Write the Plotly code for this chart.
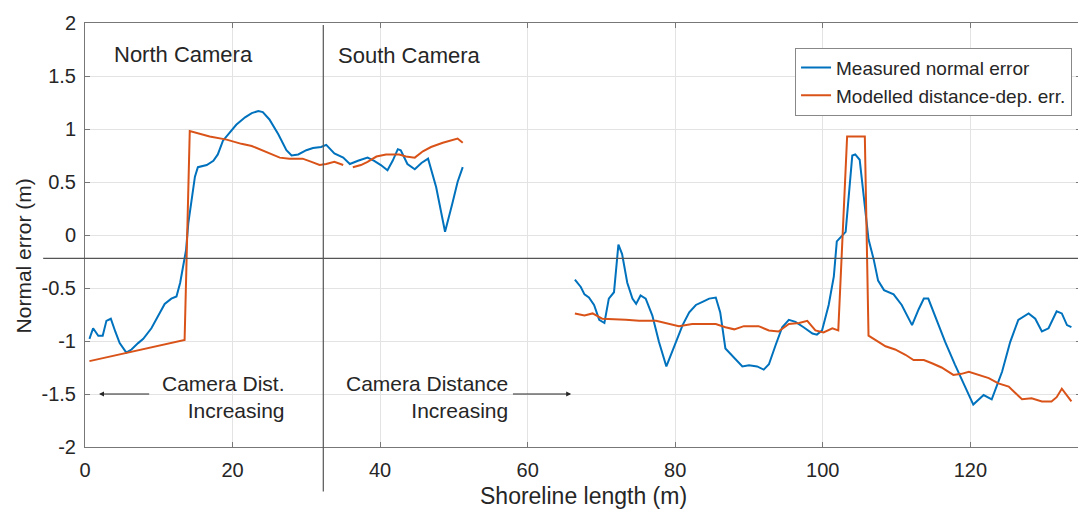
import plotly.graph_objects as go

# ---- data ----
meas_x1 = [0.6, 1.1, 1.8, 2.4, 2.9, 3.5, 4.1, 4.7, 5.6, 6.3, 7.2, 7.9, 9.0, 9.9, 10.8, 11.7, 12.4, 12.9,
           13.3, 13.7, 14.0, 14.4, 14.9, 15.3, 16.5, 17.4, 18.0, 18.7, 19.6, 20.5, 21.7, 22.6, 23.5, 24.1,
           25.0, 26.2, 27.3, 28.0, 28.9, 30.0, 30.9, 32.0, 32.7, 33.8, 35.0, 35.9, 37.0, 38.3, 39.2, 40.1,
           41.0, 41.7, 42.4, 42.8, 43.7, 44.7, 45.6, 46.5, 47.6, 48.8, 49.8, 50.5, 51.2]
meas_y1 = [-0.98, -0.88, -0.95, -0.95, -0.81, -0.79, -0.91, -1.02, -1.11, -1.08, -1.02, -0.98, -0.88, -0.77,
           -0.65, -0.60, -0.58, -0.45, -0.29, -0.14, 0.11, 0.30, 0.55, 0.64, 0.66, 0.70, 0.76, 0.89, 0.97,
           1.04, 1.11, 1.15, 1.17, 1.16, 1.09, 0.95, 0.80, 0.75, 0.76, 0.80, 0.82, 0.83, 0.85, 0.77, 0.73,
           0.67, 0.70, 0.73, 0.70, 0.66, 0.61, 0.70, 0.81, 0.80, 0.67, 0.62, 0.68, 0.72, 0.45, 0.03, 0.30,
           0.50, 0.64]

meas_x2 = [66.4, 67.2, 67.7, 68.3, 69.0, 69.7, 70.4, 71.0, 71.7, 72.3, 72.8, 73.5, 74.2, 74.7, 75.3, 76.0,
           76.9, 77.8, 78.8, 79.8, 81.0, 81.9, 82.8, 83.7, 84.6, 85.5, 86.1, 86.8, 88.0, 89.1, 90.0, 91.1,
           92.0, 92.7, 93.6, 94.5, 95.4, 96.3, 97.4, 98.6, 99.2, 99.9, 100.8, 101.5, 101.9, 103.1, 104.0,
           104.4, 105.0, 105.5, 106.2, 106.9, 107.5, 108.3, 109.6, 110.7, 112.1, 113.0, 113.7, 114.3, 115.2,
           116.6, 117.9, 119.3, 120.4, 121.8, 122.9, 124.3, 125.4, 126.5, 127.9, 128.8, 129.7, 130.6, 131.7,
           132.4, 133.1, 133.7]
meas_y2 = [-0.42, -0.49, -0.56, -0.59, -0.66, -0.80, -0.83, -0.60, -0.54, -0.09, -0.18, -0.45, -0.60, -0.65,
           -0.57, -0.60, -0.76, -1.01, -1.24, -1.07, -0.85, -0.73, -0.66, -0.63, -0.60, -0.59, -0.73, -1.07,
           -1.16, -1.24, -1.23, -1.24, -1.27, -1.22, -1.04, -0.87, -0.80, -0.82, -0.87, -0.93, -0.94, -0.90,
           -0.66, -0.39, -0.06, 0.03, 0.75, 0.76, 0.71, 0.42, -0.04, -0.23, -0.43, -0.52, -0.56, -0.66, -0.85,
           -0.70, -0.60, -0.60, -0.76, -1.01, -1.22, -1.44, -1.60, -1.51, -1.55, -1.29, -1.01, -0.80, -0.74,
           -0.79, -0.91, -0.88, -0.72, -0.74, -0.85, -0.87]

model_x1 = [0.6, 13.5, 14.2, 16.9, 19.2, 21.2, 22.6, 24.6, 26.4, 27.7, 29.5, 30.7, 31.8, 32.7, 33.8, 35.0]
model_y1 = [-1.19, -0.99, 0.98, 0.93, 0.90, 0.86, 0.84, 0.78, 0.73, 0.72, 0.72, 0.69, 0.66, 0.67, 0.69, 0.66]

model_x1b = [36.3, 37.4, 38.3, 39.5, 40.8, 42.6, 43.5, 44.7, 45.8, 46.9, 48.5, 49.6, 50.5, 51.2]
model_y1b = [0.64, 0.66, 0.69, 0.74, 0.76, 0.76, 0.74, 0.73, 0.79, 0.83, 0.87, 0.89, 0.91, 0.87]

model_x2 = [66.4, 67.7, 68.8, 70.1, 73.3, 75.1, 77.4, 79.2, 80.5, 82.3, 85.5, 86.8, 88.0, 89.3, 91.3, 92.7,
            94.0, 95.4, 96.8, 97.9, 99.0, 100.1, 101.3, 102.1, 103.3, 105.7, 106.2, 107.6, 108.5, 109.8,
            111.2, 112.3, 113.7, 114.8, 116.1, 117.7, 118.8, 119.8, 121.1, 122.5, 123.8, 125.2, 126.1,
            127.0, 128.3, 129.7, 131.0, 131.7, 132.4, 133.1, 133.7]
model_y2 = [-0.74, -0.76, -0.74, -0.79, -0.80, -0.81, -0.81, -0.84, -0.86, -0.84, -0.84, -0.87, -0.89, -0.86,
            -0.86, -0.90, -0.91, -0.84, -0.83, -0.81, -0.90, -0.92, -0.88, -0.90, 0.93, 0.93, -0.95, -1.01,
            -1.05, -1.08, -1.13, -1.18, -1.18, -1.21, -1.25, -1.32, -1.31, -1.29, -1.32, -1.35, -1.40, -1.43,
            -1.49, -1.55, -1.54, -1.57, -1.57, -1.53, -1.45, -1.52, -1.57]

x_range = [0, 135]
y_range = [-2, 2]
x_ticks = [0, 20, 40, 60, 80, 100, 120]
y_ticks = [2, 1.5, 1, 0.5, 0, -0.5, -1, -1.5, -2]
y_tick_text = ["2", "1.5", "1", "0.5", "0", "-0.5", "-1", "-1.5", "-2"]
camera_split_x = 32.3
ref_line_y = -0.22

BLUE = "#0072BD"
ORANGE = "#D95319"
TXT = "#262626"
FONT = "Liberation Sans, Arial, sans-serif"

fig = go.Figure()
fig.add_trace(go.Scatter(x=meas_x1, y=meas_y1, mode="lines", line=dict(color=BLUE, width=2),
                         name="Measured normal error", legendgroup="m"))
fig.add_trace(go.Scatter(x=meas_x2, y=meas_y2, mode="lines", line=dict(color=BLUE, width=2),
                         name="Measured normal error", legendgroup="m", showlegend=False))
fig.add_trace(go.Scatter(x=model_x1, y=model_y1, mode="lines", line=dict(color=ORANGE, width=2),
                         name="Modelled distance-dep. err.", legendgroup="d"))
fig.add_trace(go.Scatter(x=model_x1b, y=model_y1b, mode="lines", line=dict(color=ORANGE, width=2),
                         name="Modelled distance-dep. err.", legendgroup="d", showlegend=False))
fig.add_trace(go.Scatter(x=model_x2, y=model_y2, mode="lines", line=dict(color=ORANGE, width=2),
                         name="Modelled distance-dep. err.", legendgroup="d", showlegend=False))

def xf(v):
    return (v - x_range[0]) / (x_range[1] - x_range[0])

def yf(v):
    return (v - y_range[0]) / (y_range[1] - y_range[0])

shapes = [
    dict(type="line", xref="paper", yref="paper", x0=xf(camera_split_x), x1=xf(camera_split_x),
         y0=-0.105, y1=0.995, line=dict(color="#555555", width=1.2)),
    dict(type="line", xref="paper", yref="paper", x0=-0.042, x1=1.01,
         y0=yf(ref_line_y), y1=yf(ref_line_y), line=dict(color="#555555", width=1.2)),
]

annotations = [
    dict(text="North Camera", x=3.6, y=1.70, xref="x", yref="y", xanchor="left", yanchor="middle",
         showarrow=False, font=dict(size=22, color=TXT, family=FONT)),
    dict(text="South Camera", x=34.0, y=1.69, xref="x", yref="y", xanchor="left", yanchor="middle",
         showarrow=False, font=dict(size=22, color=TXT, family=FONT)),
    dict(text="Camera Dist.<br>Increasing", x=27.4, y=-1.53, xref="x", yref="y", xanchor="right",
         yanchor="middle", align="right", showarrow=False, font=dict(size=21, color=TXT, family=FONT)),
    dict(text="Camera Distance<br>Increasing", x=57.6, y=-1.53, xref="x", yref="y", xanchor="right",
         yanchor="middle", align="right", showarrow=False, font=dict(size=21, color=TXT, family=FONT)),
    dict(text="", x=1.9, y=-1.5, ax=8.9, ay=-1.5, xref="x", yref="y", axref="x", ayref="y",
         showarrow=True, arrowhead=2, arrowsize=1, arrowwidth=1, arrowcolor=TXT),
    dict(text="", x=65.9, y=-1.5, ax=57.8, ay=-1.5, xref="x", yref="y", axref="x", ayref="y",
         showarrow=True, arrowhead=2, arrowsize=1, arrowwidth=1, arrowcolor=TXT),
    dict(text="Normal error (m)", x=-0.062, y=0.45, xref="paper", yref="paper", textangle=-90,
         xanchor="center", yanchor="middle", showarrow=False, font=dict(size=21, color=TXT, family=FONT)),
    dict(text="Shoreline length (m)", x=0.5, y=-0.115, xref="paper", yref="paper",
         xanchor="center", yanchor="middle", showarrow=False, font=dict(size=23, color=TXT, family=FONT)),
]

axis_common = dict(showgrid=True, gridcolor="#e3e3e3", gridwidth=1, zeroline=False,
                   showline=True, linecolor="#777777", linewidth=1, mirror="ticks",
                   ticks="inside", ticklen=5, tickcolor="#777777", ticklabeloverflow="allow",
                   tickfont=dict(size=20, color=TXT, family=FONT))

# the page body adds an 8px offset, so the figure is sized/margined to place the plot area
fig.update_layout(
    width=1078, height=503,
    margin=dict(l=77, r=4, t=10, b=64),
    paper_bgcolor="white", plot_bgcolor="white",
    font=dict(family=FONT, color=TXT),
    xaxis=dict(range=x_range, tickmode="array", tickvals=x_ticks, ticklabelstandoff=5, **axis_common),
    yaxis=dict(range=y_range, tickmode="array", tickvals=y_ticks, ticktext=y_tick_text,
               ticklabelstandoff=4, **axis_common),
    shapes=shapes,
    annotations=annotations,
    showlegend=True,
    legend=dict(x=0.991, y=0.942, xanchor="right", yanchor="top", bgcolor="white",
                bordercolor="#888888", borderwidth=1, font=dict(size=19, color=TXT, family=FONT),
                tracegroupgap=0, itemwidth=30),
)

fig.write_html("out.html")
